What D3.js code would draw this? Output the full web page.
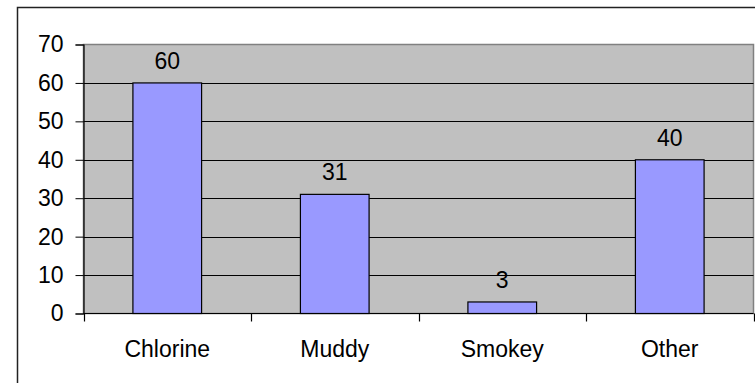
<!DOCTYPE html>
<html lang="en">
<head>
<meta charset="UTF-8">
<title>Odour complaints</title>
<script src="https://d3js.org/d3.v7.min.js"></script>
<style>
  body { margin: 0; background: white; }
  text { font-family: "Liberation Sans", Arial, sans-serif; fill: black; }
</style>
</head>
<body>
<script>
// chart data
const categories = ["Chlorine", "Muddy", "Smokey", "Other"];
const values = [60, 31, 3, 40];
const yTicks = [0, 10, 20, 30, 40, 50, 60, 70];

const width = 755, height = 383;
const plot = { left: 83.5, top: 44.5, right: 753.5, bottom: 313.5 };
const fontSize = 23;

const svg = d3.select("body").append("svg")
    .attr("width", width)
    .attr("height", height);

// outer chart border (runs off the right and bottom edges)
svg.append("rect")
    .attr("x", 17.5).attr("y", 7.5)
    .attr("width", 800).attr("height", 400)
    .attr("fill", "white")
    .attr("stroke", "#222").attr("stroke-width", 1.5);

const x = d3.scaleBand()
    .domain(categories)
    .range([plot.left, plot.right])
    .paddingInner(0.59).paddingOuter(0.295);

const y = d3.scaleLinear()
    .domain([0, 70])
    .range([plot.bottom, plot.top]);

// plot area
svg.append("rect")
    .attr("x", plot.left).attr("y", plot.top)
    .attr("width", plot.right - plot.left)
    .attr("height", plot.bottom - plot.top)
    .attr("fill", "#c0c0c0")
    .attr("stroke", "#808080").attr("stroke-width", 1.5);

// gridlines
svg.append("g").selectAll("line")
    .data(yTicks.filter(t => t > 0 && t < 70))
    .enter().append("line")
    .attr("x1", plot.left).attr("x2", plot.right)
    .attr("y1", d => Math.round(y(d)) + 0.5)
    .attr("y2", d => Math.round(y(d)) + 0.5)
    .attr("stroke", "#000").attr("stroke-width", 1);

// bars
svg.append("g").selectAll("rect")
    .data(values)
    .enter().append("rect")
    .attr("x", (d, i) => x(categories[i]))
    .attr("y", d => y(d))
    .attr("width", x.bandwidth())
    .attr("height", d => y(0) - y(d))
    .attr("fill", "#9999ff")
    .attr("stroke", "#000").attr("stroke-width", 1.2);

// data labels
svg.append("g").selectAll("text")
    .data(values)
    .enter().append("text")
    .attr("x", (d, i) => x(categories[i]) + x.bandwidth() / 2)
    .attr("y", d => y(d) - 14)
    .attr("text-anchor", "middle")
    .attr("font-size", fontSize)
    .text(d => d);

// y axis
const yAxis = svg.append("g")
    .attr("transform", `translate(${plot.left},0)`)
    .call(d3.axisLeft(y).tickValues(yTicks).tickSize(8).tickPadding(12));
yAxis.select(".domain").attr("stroke", "#000").attr("stroke-width", 1.2);
yAxis.selectAll(".tick line").attr("stroke", "#000");
yAxis.selectAll(".tick text")
    .attr("font-size", fontSize)
    .attr("font-family", "Liberation Sans, Arial, sans-serif")
    .attr("fill", "#000");

// x axis: ticks between categories
const step = x.step();
const xAxis = svg.append("g");
xAxis.append("line")
    .attr("x1", plot.left).attr("x2", plot.right)
    .attr("y1", plot.bottom).attr("y2", plot.bottom)
    .attr("stroke", "#000").attr("stroke-width", 1.2);
xAxis.selectAll("line.tick")
    .data(d3.range(categories.length + 1))
    .enter().append("line")
    .attr("class", "tick")
    .attr("x1", i => Math.round(plot.left + i * step) + 0.5)
    .attr("x2", i => Math.round(plot.left + i * step) + 0.5)
    .attr("y1", plot.bottom).attr("y2", plot.bottom + 8)
    .attr("stroke", "#000").attr("stroke-width", 1.2);
xAxis.selectAll("text")
    .data(categories)
    .enter().append("text")
    .attr("x", d => x(d) + x.bandwidth() / 2)
    .attr("y", 357)
    .attr("text-anchor", "middle")
    .attr("font-size", fontSize)
    .text(d => d);
</script>
</body>
</html>
